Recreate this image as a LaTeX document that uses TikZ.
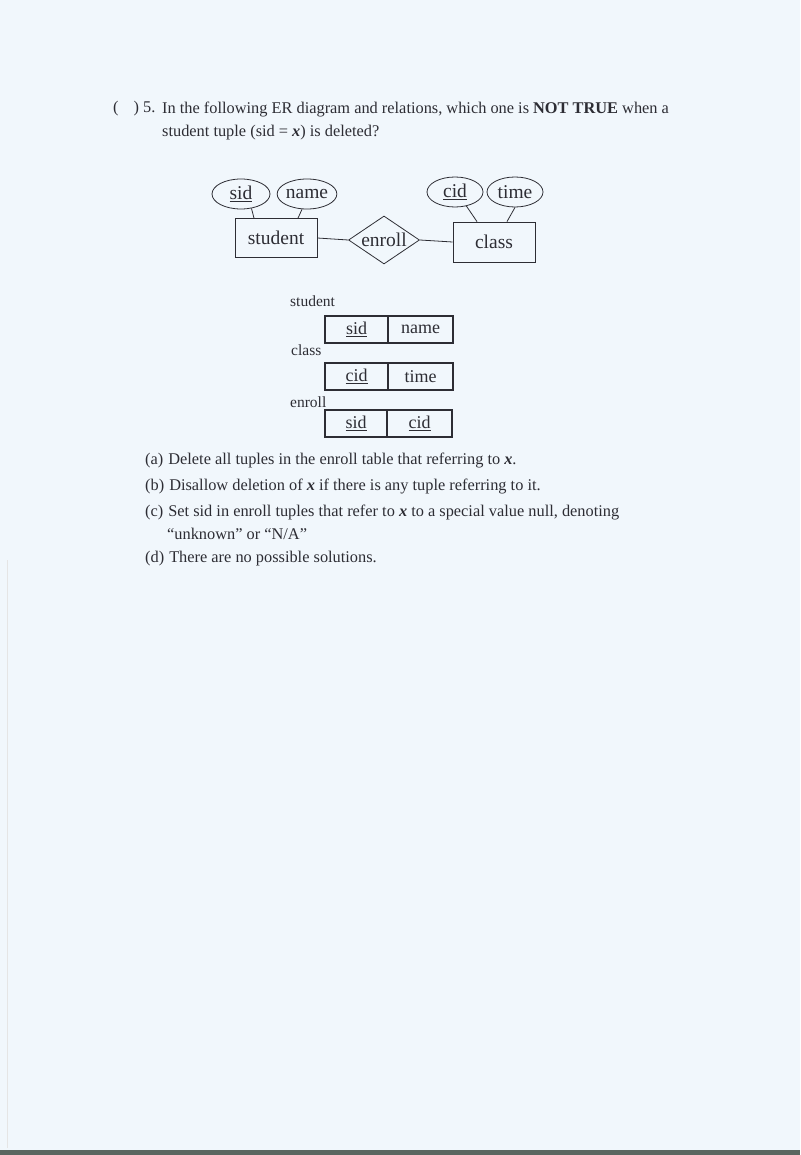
\documentclass[tikz,border=0pt]{standalone}
\usepackage{fontspec}
\setmainfont{Liberation Serif}
\usetikzlibrary{shapes.geometric,positioning}
\definecolor{paper}{RGB}{241,247,252}
\definecolor{ink}{RGB}{45,45,52}
\definecolor{scanedge}{RGB}{90,102,96}
\begin{document}
\begin{tikzpicture}[x=1pt,y=-1pt,
    txt/.style={anchor=base west,inner sep=0pt,text=ink,font=\fontsize{16.35}{16.35}\selectfont},
    entity/.style={draw=ink,line width=0.8pt,minimum width=82pt,minimum height=39pt,inner sep=0pt,text=ink,font=\fontsize{19.5}{19.5}\selectfont},
    attr/.style={draw=ink,ellipse,line width=0.8pt,minimum width=58pt,minimum height=30pt,inner sep=0pt,text=ink,font=\fontsize{19.5}{19.5}\selectfont},
    rel/.style={draw=ink,diamond,aspect=1.5,line width=0.8pt,minimum width=71pt,minimum height=48pt,inner sep=0pt,text=ink,font=\fontsize{19.5}{19.5}\selectfont},
    cell/.style={draw=ink,line width=1.3pt,minimum width=64pt,minimum height=27pt,inner sep=0pt,outer sep=0pt,text=ink,font=\fontsize{18}{18}\selectfont},
    tlabel/.style={anchor=base west,inner sep=0pt,text=ink,font=\fontsize{15.5}{15.5}\selectfont}]
    \useasboundingbox (0,0) rectangle (800,1155);
    \fill[paper] (0,0) rectangle (800,1155);
    \fill[scanedge] (0,1150) rectangle (800,1155);
    \draw[black!10,line width=1pt] (7,560) -- (7,1148);
    % question
    \node[txt] (qnum) at (113,113) {(\hspace{15pt}) 5.};
    \node[txt] (q1) at (162,114) {In the following ER diagram and relations, which one is \textbf{NOT TRUE} when a};
    \node[txt] (q2) at (162,137) {student tuple (sid = \textbf{\textit{x}}) is deleted?};
    % ER diagram
    \node[attr] (sid) at (241,194) {\underline{sid}};
    \node[attr,minimum width=56pt] (name) at (307,194) {name};
    \node[entity] (student) at (276,238) {student};
    \node[rel] (enroll) at (384,240) {enroll};
    \node[entity,minimum height=40pt] (class) at (494,242) {class};
    \node[attr,minimum width=56pt] (cid) at (455,192) {\underline{cid}};
    \node[attr,minimum width=56pt] (time) at (515,192) {time};
    \draw[ink,line width=0.8pt] (sid.-54) -- ([xshift=-22pt]student.north);
    \draw[ink,line width=0.8pt] (name.-108) -- ([xshift=22pt]student.north);
    \draw[ink,line width=0.8pt] (cid.-51) -- ([xshift=-17pt]class.north);
    \draw[ink,line width=0.8pt] (time.south) -- ([xshift=13pt]class.north);
    \draw[ink,line width=0.8pt] (student.east) -- (enroll.west);
    \draw[ink,line width=0.8pt] (enroll.east) -- (class.west);
    % relations
    \node[tlabel] (lstudent) at (290,306) {student};
    \node[cell,minimum width=63pt,anchor=north west] (ssid) at (325,316) {\underline{sid}};
    \node[cell,minimum width=65pt,right=0pt of ssid] (sname) {name};
    \node[tlabel] (lclass) at (291,355) {class};
    \node[cell,minimum width=63pt,anchor=north west] (ccid) at (325,363) {\underline{cid}};
    \node[cell,minimum width=65pt,right=0pt of ccid] (ctime) {time};
    \node[tlabel] (lenroll) at (290,407) {enroll};
    \node[cell,minimum width=62pt,anchor=north west] (esid) at (325,410) {\underline{sid}};
    \node[cell,minimum width=65pt,right=0pt of esid] (ecid) {\underline{cid}};
    % choices
    \node[txt] (ca) at (145,464) {(a)\hspace{5pt}Delete all tuples in the enroll table that referring to \textbf{\textit{x}}.};
    \node[txt] (cb) at (145,490) {(b)\hspace{5pt}Disallow deletion of \textbf{\textit{x}} if there is any tuple referring to it.};
    \node[txt] (cc) at (145,516) {(c)\hspace{5pt}Set sid in enroll tuples that refer to \textbf{\textit{x}} to a special value null, denoting};
    \node[txt] (cc2) at (167,539) {``unknown'' or ``N/A''};
    \node[txt] (cd) at (145,562) {(d)\hspace{5pt}There are no possible solutions.};
\end{tikzpicture}
\end{document}
